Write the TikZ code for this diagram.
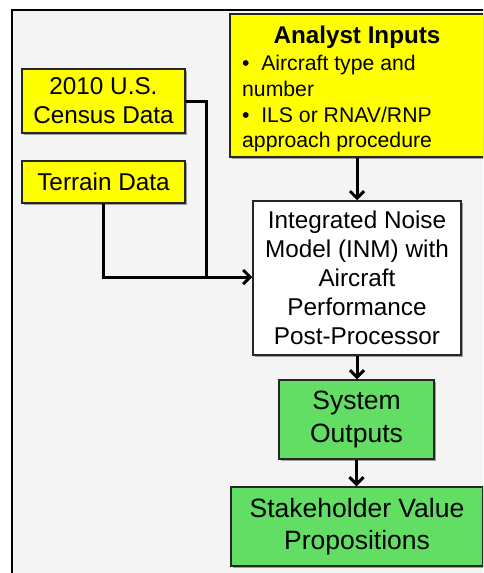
\documentclass[tikz,border=0pt]{standalone}
\usepackage{fontspec}
\setmainfont{Liberation Sans}
\usetikzlibrary{arrows.meta,shadows}
\definecolor{bgray}{RGB}{244,244,244}
\definecolor{ylw}{RGB}{255,255,0}
\definecolor{grn}{RGB}{98,222,100}
\tikzset{
  box/.style={draw=black!85, line width=1.5pt, rectangle, inner sep=0pt, align=center,
    drop shadow={shadow xshift=1.5pt, shadow yshift=-1.5pt, opacity=0.35, fill=black}},
  ybox/.style={box, fill=ylw},
  gbox/.style={box, fill=grn},
  wbox/.style={box, fill=white},
  conn/.style={line width=3pt, -{Straight Barb[length=7pt,width=14pt,line width=3pt]}},
  thickline/.style={line width=3pt},
  midtxt/.style={font=\fontsize{24.3}{29}\selectfont},
  bigtxt/.style={font=\fontsize{26.5}{32.5}\selectfont},
  bultxt/.style={font=\fontsize{21.2}{25.8}\selectfont, anchor=base west, inner sep=0pt},
}
\begin{document}
\begin{tikzpicture}[x=1pt,y=-1pt]
\useasboundingbox (0,0) rectangle (483,573);
\clip (0,0) rectangle (483,573);
\draw[line width=2.5pt, fill=bgray] (12,10) rectangle (520,620);
% boxes
\node[ybox, minimum width=254pt, minimum height=143pt] (ana) at (357,85.5) {};
\node[ybox, midtxt, minimum width=163pt, minimum height=64pt] (cen) at (103.5,101) {2010 U.S.\\Census Data};
\node[ybox, midtxt, minimum width=163pt, minimum height=42pt] (ter) at (103.5,182) {Terrain Data};
\node[wbox, midtxt, minimum width=208pt, minimum height=154pt] (inm) at (357,278)
  {Integrated Noise\\Model (INM) with\\Aircraft\\Performance\\Post-Processor};
\node[gbox, bigtxt, minimum width=155pt, minimum height=79pt] (sys) at (356.5,419.5) {System\\Outputs};
\node[gbox, bigtxt, minimum width=252pt, minimum height=79pt] (stk) at (357,526.5) {Stakeholder Value\\Propositions};
% analyst texts
\node[font=\fontsize{24.2}{29}\selectfont\bfseries, anchor=base, inner sep=0pt] (anat) at (357,43) {Analyst Inputs};
\node[bultxt] (b1) at (242,70) {•\hspace{0.55em}Aircraft type and};
\node[bultxt] (b1b) at (242,96) {number};
\node[bultxt] (b2) at (242,122) {•\hspace{0.55em}ILS or RNAV/RNP};
\node[bultxt] (b2b) at (242,147) {approach procedure};
% connectors
\coordinate (j) at (206,277);
\draw[thickline] (cen.east |- 0,101) -| (j);
\draw[conn] (ter.south) |- (inm.west |- j);
\draw[conn] (ana.south -| inm.north) -- (inm.north);
\draw[conn] (inm.south) -- (inm.south |- sys.north);
\draw[conn] (sys.south) -- (sys.south |- stk.north);
\end{tikzpicture}
\end{document}
